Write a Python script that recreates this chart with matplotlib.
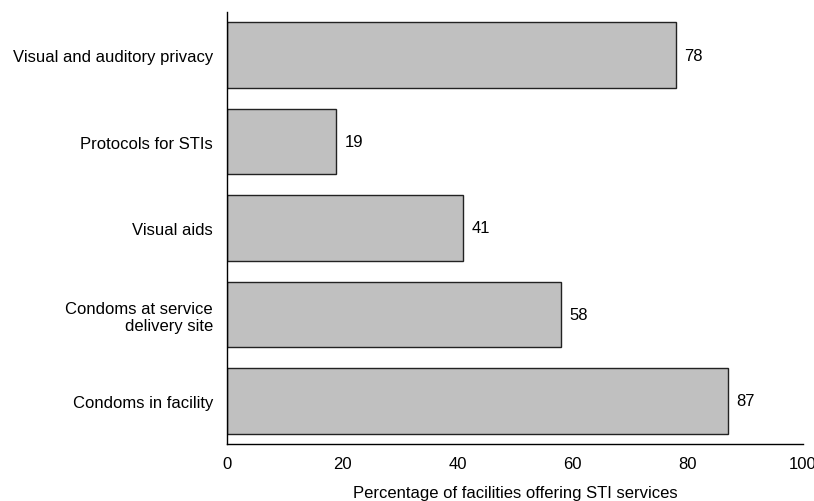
import matplotlib.pyplot as plt

plt.rcParams.update({
    'font.family': ['Liberation Sans', 'DejaVu Sans'],
    'font.size': 12,
})

categories = ['Condoms in facility',
              'Condoms at service\ndelivery site',
              'Visual aids',
              'Protocols for STIs',
              'Visual and auditory privacy']
values = [87, 58, 41, 19, 78]
xticks = [0, 20, 40, 60, 80, 100]

fig = plt.figure(figsize=(8.14, 5.02), dpi=100)
ax = fig.add_axes([227 / 814, 57 / 502, 576 / 814, 432 / 502])

ypos = range(len(categories))
ax.barh(ypos, values, height=0.76, color='#c0c0c0',
        edgecolor='#222222', linewidth=1.0)
for y, v in zip(ypos, values):
    ax.text(v + 1.4, y, str(v), va='center', ha='left', color='black')

ax.set_yticks(list(ypos))
ax.set_yticklabels(categories, ha='right', multialignment='right')
ax.set_xticks(xticks)
ax.set_xlim(0, 100)
ax.set_ylim(-0.5, 4.5)
ax.tick_params(axis='both', length=0)
ax.tick_params(axis='x', pad=8.5)
ax.tick_params(axis='y', pad=10)
ax.set_xlabel('Percentage of facilities offering STI services', labelpad=10.5)

for s in ['top', 'right']:
    ax.spines[s].set_visible(False)
for s in ['left', 'bottom']:
    ax.spines[s].set_linewidth(1.0)
    ax.spines[s].set_color('black')

fig.savefig('out.png', dpi=100)
